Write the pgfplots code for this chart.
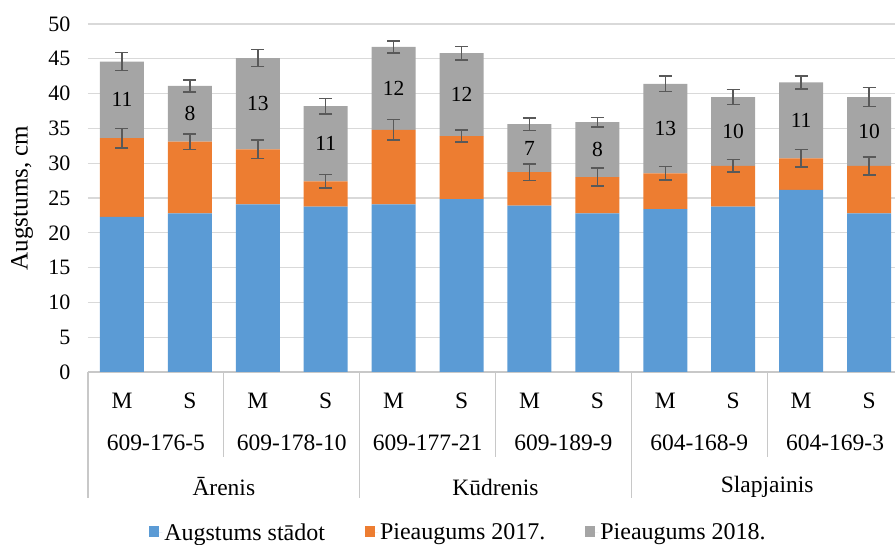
\documentclass[border=0pt]{standalone}
\usepackage{fontspec}
\setmainfont{Liberation Serif}
\usepackage{pgfplots}
\usepackage{pgfplotstable}
\pgfplotsset{compat=1.18}
\definecolor{cblue}{HTML}{5B9BD5}
\definecolor{corange}{HTML}{ED7D31}
\definecolor{cgray}{HTML}{A5A5A5}
\definecolor{errgray}{HTML}{595959}
\definecolor{gridgray}{HTML}{D9D9D9}
\definecolor{sepgray}{HTML}{C8C8C8}
\newcommand{\tk}{\fontsize{22}{26}\selectfont}
\newcommand{\xl}{\fontsize{23.5}{28}\selectfont}

% segments of each stacked bar
\pgfplotstableread{
x blue orange gray
0 22.3 11.3 11.0
1 22.8 10.3 8.0
2 24.1 7.9 13.1
3 23.75 3.65 10.8
4 24.1 10.7 11.9
5 24.85 9.05 11.9
6 23.9 4.8 6.9
7 22.8 5.2 7.9
8 23.4 5.15 12.85
9 23.75 5.85 9.9
10 26.15 4.55 10.9
11 22.8 6.8 9.9
}\bars

% tops of the stacks, their errors, label positions and labels
\pgfplotstableread{
x otop oerr gtop gerr lpos lab
0 33.6 1.4 44.6 1.3 39.1 11
1 33.1 1.1 41.1 0.85 37.1 8
2 32.0 1.3 45.1 1.2 38.55 13
3 27.4 0.95 38.2 1.1 32.8 11
4 34.8 1.5 46.7 0.85 40.75 12
5 33.9 0.85 45.8 1.0 39.85 12
6 28.7 1.2 35.6 0.9 32.15 7
7 28.0 1.3 35.9 0.67 31.95 8
8 28.55 1.0 41.4 1.1 34.98 13
9 29.6 0.9 39.5 1.08 34.55 10
10 30.7 1.25 41.6 0.96 36.15 11
11 29.6 1.3 39.5 1.36 34.55 10
}\errs

\begin{document}
\begin{tikzpicture}
\pgfplotsset{
  common/.style={scale only axis, width=815pt, height=348pt,
    at={(88pt,173pt)}, anchor=south west,
    xmin=-0.5, xmax=11.5, ymin=0, ymax=50, clip=false},
  sq/.style={legend image code/.code={\fill[##1] (0pt,-5pt) rectangle (10pt,6pt); \path (0pt,0pt) -- (13pt,0pt);}},
  eb/.style={draw=none, mark=none, forget plot,
    error bars/.cd, y dir=both, y explicit,
    error bar style={draw=errgray, line width=1.5pt, solid},
    error mark options={rotate=90, mark size=6.5pt, line width=1.5pt, draw=errgray}}
}
\begin{axis}[common,
  ybar stacked, bar width=44pt,
  axis x line*=bottom, axis y line*=left,
  x axis line style={draw=sepgray, line width=1.2pt},
  y axis line style={draw=none},
  ymajorgrids, grid style={draw=gridgray, line width=1.2pt},
  major tick length=0pt,
  ytick={0,5,...,50},
  yticklabel style={anchor=east, xshift=-14pt, font=\tk},
  /pgf/number format/assume math mode=true,
  xtick={0,...,11},
  xticklabels={M,S,M,S,M,S,M,S,M,S,M,S},
  xticklabel style={anchor=center, yshift=-29pt, font=\xl},
  ylabel={Augstums, cm},
  ylabel style={at={(axis description cs:-0.081,0.5)}, anchor=center, font=\fontsize{25}{30}\selectfont},
  legend columns=3,
  legend style={at={(axis description cs:0.4546,-0.461)}, anchor=center,
    draw=none, fill=none, font=\fontsize{24}{28}\selectfont,
    /tikz/every even column/.append style={column sep=38pt}},
]
\addplot[fill=cblue, draw=none, sq] table[x=x, y=blue]{\bars};
\addlegendentry{Augstums stādot}
\addplot[fill=corange, draw=none, sq] table[x=x, y=orange]{\bars};
\addlegendentry{Pieaugums 2017.}
\addplot[fill=cgray, draw=none, sq] table[x=x, y=gray]{\bars};
\addlegendentry{Pieaugums 2018.}

% separators of the category levels
\pgfplotsinvokeforeach{-0.5,3.5,7.5,11.5}{
  \draw[sepgray, line width=1.2pt] (axis cs:#1,0) -- ++(0pt,-126pt);
}
\pgfplotsinvokeforeach{1.5,5.5,9.5}{
  \draw[sepgray, line width=1.2pt] (axis cs:#1,0) -- ++(0pt,-85pt);
}
% genotype labels
\node[font=\xl] at ([yshift=-71pt]axis cs:0.5,0) {609-176-5};
\node[font=\xl] at ([yshift=-71pt]axis cs:2.5,0) {609-178-10};
\node[font=\xl] at ([yshift=-71pt]axis cs:4.5,0) {609-177-21};
\node[font=\xl] at ([yshift=-71pt]axis cs:6.5,0) {609-189-9};
\node[font=\xl] at ([yshift=-71pt]axis cs:8.5,0) {604-168-9};
\node[font=\xl] at ([yshift=-71pt]axis cs:10.5,0) {604-169-3};
% group labels
\node[font=\xl] at ([yshift=-115pt]axis cs:1.5,0) {Ārenis};
\node[font=\xl] at ([yshift=-115pt]axis cs:5.5,0) {Kūdrenis};
\node[font=\xl] at ([yshift=-115pt]axis cs:9.5,0) {Slapjainis};
\end{axis}

\begin{axis}[common, hide axis]
\addplot[eb] table[x=x, y=otop, y error=oerr]{\errs};
\addplot[eb] table[x=x, y=gtop, y error=gerr]{\errs};
\addplot[draw=none, mark=none, forget plot,
  nodes near coords, point meta=explicit symbolic,
  nodes near coords style={anchor=center, font=\fontsize{21.5}{26}\selectfont, text=black}]
  table[x=x, y=lpos, meta=lab]{\errs};
\end{axis}
\pgfresetboundingbox
\useasboundingbox (0,0) rectangle (895pt,545pt);
\end{tikzpicture}
\end{document}
